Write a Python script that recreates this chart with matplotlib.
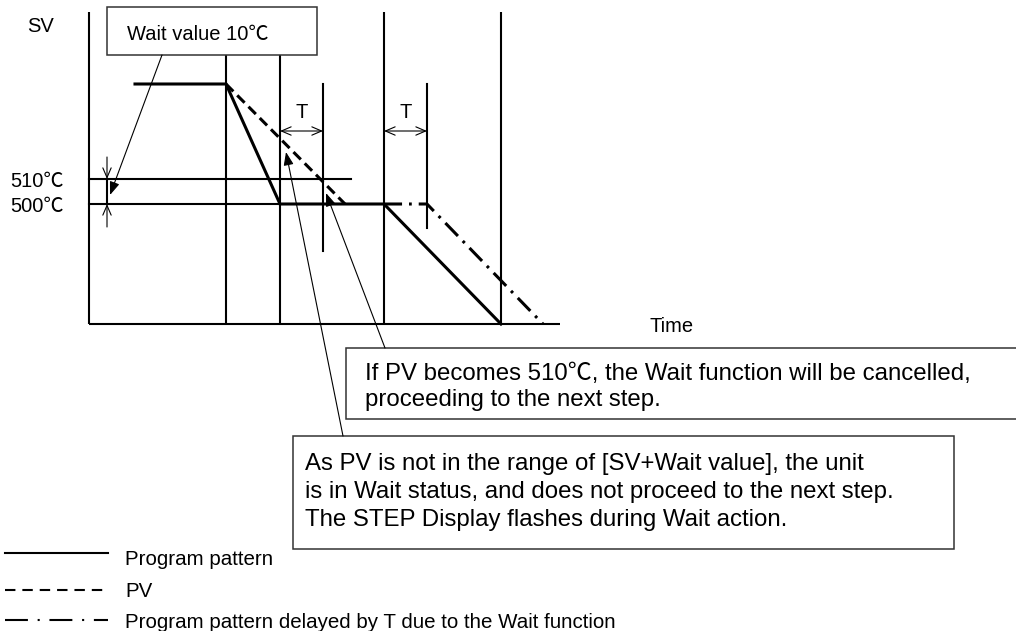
import matplotlib
matplotlib.use("Agg")
import matplotlib.pyplot as plt
from matplotlib.patches import Rectangle

plt.rcParams['font.family'] = ['Liberation Sans', 'Noto Sans CJK SC', 'DejaVu Sans']
plt.rcParams['lines.scale_dashes'] = False

# ---------------- data (time units, SV in degC) ----------------
program_t = [46, 137, 191, 295, 412]
program_sv = [548, 548, 500, 500, 452]
pv_t = [137, 256]
pv_sv = [548, 500]
delayed_t = [295, 338, 454]
delayed_sv = [500, 500, 452]
step_times = [137, 191, 295, 412]
T_delay = 43
sv_level = 500
wait_value = 10
sv_origin = 452
time_end = 471

labels_sv = ["510℃", "500℃"]
legend_labels = ["Program pattern", "PV", "Program pattern delayed by T due to the Wait function"]
box1_text = "Wait value 10℃"
box2_text = "If PV becomes 510℃, the Wait function will be cancelled,\nproceeding to the next step."
box3_text = ("As PV is not in the range of [SV+Wait value], the unit\n"
             "is in Wait status, and does not proceed to the next step.\n"
             "The STEP Display flashes during Wait action.")

# ---------------- figure: 1 time unit = 1 px, 1 degC = 2.5 px ----------------
W, H = 1016, 631
X0, Y500, K = 89, 204, 2.5

def px(x, y):
    """pixel position -> data coordinates (layout helper)"""
    return x - X0, sv_level + (Y500 - y) / K

fig = plt.figure(figsize=(W / 100, H / 100), dpi=100)
ax = fig.add_axes([0, 0, 1, 1])
ax.set_xlim(px(0, 0)[0], px(W, 0)[0])
ax.set_ylim(px(0, H)[1], px(0, 0)[1])
ax.axis('off')

k = 'black'
FS = 14.5
FS_BOX = 17.3
FS_LEG = 14.8

# axes
ax.plot([0, 0], [sv_origin, px(0, 12)[1]], color=k, lw=1.5, solid_capstyle='butt')
ax.plot([0, time_end], [sv_origin, sv_origin], color=k, lw=1.5, solid_capstyle='butt')

# step boundary verticals
tops = [px(0, 55)[1], px(0, 55)[1], px(0, 12)[1], px(0, 12)[1]]
for t, top in zip(step_times, tops):
    ax.plot([t, t], [sv_origin, top], color=k, lw=1.5, solid_capstyle='butt')

# T marker verticals
tm1 = step_times[1] + T_delay
tm2 = step_times[2] + T_delay
ax.plot([tm1, tm1], [px(0, 251)[1], px(0, 84)[1]], color=k, lw=1.5)
ax.plot([tm2, tm2], [px(0, 228)[1], px(0, 84)[1]], color=k, lw=1.5)

# SV level lines
ax.plot([0, px(351, 0)[0]], [sv_level + wait_value] * 2, color=k, lw=1.5)
ax.plot([0, step_times[1]], [sv_level] * 2, color=k, lw=1.5)

# program pattern
ax.plot(program_t, program_sv, color=k, lw=2.2, solid_joinstyle='miter')
# PV
ax.plot(pv_t, pv_sv, color=k, lw=2.2, dashes=(7.5, 4.0))
# delayed program
ax.plot(delayed_t, delayed_sv, color=k, lw=2.2, dashes=(13, 5, 2, 5))

# T arrows and labels
y_T = px(0, 131)[1]
for a, b in [(step_times[1], tm1), (step_times[2], tm2)]:
    ax.annotate('', xy=(b, y_T), xytext=(a, y_T),
                arrowprops=dict(arrowstyle='<->,head_length=0.7,head_width=0.3', lw=0.8, color=k,
                                shrinkA=0, shrinkB=0))
    ax.text((a + b) / 2, px(0, 118)[1], 'T', ha='center', va='baseline', fontsize=FS)

# wait value marker
xw = px(107, 0)[0]
ax.plot([xw, xw], [sv_level, sv_level + wait_value], color=k, lw=1.5)
ax.annotate('', xy=(xw, sv_level + wait_value), xytext=(xw, px(0, 157)[1]),
            arrowprops=dict(arrowstyle='->,head_length=0.7,head_width=0.3', lw=0.8, color=k,
                            shrinkA=0, shrinkB=0))
ax.annotate('', xy=(xw, sv_level), xytext=(xw, px(0, 227)[1]),
            arrowprops=dict(arrowstyle='->,head_length=0.7,head_width=0.3', lw=0.8, color=k,
                            shrinkA=0, shrinkB=0))

# labels
ax.text(*px(27, 32), 'SV', ha='left', va='baseline', fontsize=FS)
ax.text(*px(10, 187), labels_sv[0], ha='left', va='baseline', fontsize=FS)
ax.text(*px(10, 212), labels_sv[1], ha='left', va='baseline', fontsize=FS)
ax.text(*px(649, 332), 'Time', ha='left', va='baseline', fontsize=FS)

# boxes
def box(x0, y0, x1, y1):
    (a, b), (c, d) = px(x0, y1), px(x1, y0)
    ax.add_patch(Rectangle((a, b), c - a, d - b, fill=True, facecolor='white',
                           edgecolor='#333333', lw=1.1, zorder=3))

box(107, 7, 317, 55)
ax.text(*px(127, 40), box1_text, ha='left', va='baseline', fontsize=FS, zorder=4)

box(346, 348, 1030, 419)
for i, line in enumerate(box2_text.split('\n')):
    ax.text(*px(365, 380 + 26 * i), line, ha='left', va='baseline', fontsize=FS_BOX, zorder=4)

box(293, 436, 954, 549)
for i, line in enumerate(box3_text.split('\n')):
    ax.text(*px(305, 470 + 28 * i), line, ha='left', va='baseline', fontsize=FS_BOX, zorder=4)

# callout arrows
fill_arrow = dict(arrowstyle='-|>,head_length=0.8,head_width=0.3', lw=0.8, color=k,
                  shrinkA=0, shrinkB=0)
ax.annotate('', xy=px(110, 195), xytext=px(162, 55), arrowprops=fill_arrow, zorder=5)
ax.annotate('', xy=px(326, 193), xytext=px(385, 348), arrowprops=fill_arrow, zorder=5)
ax.annotate('', xy=px(286, 152), xytext=px(343, 436), arrowprops=fill_arrow, zorder=5)

# legend
ly = [553, 590, 620]
lbase = [565, 597, 628]
styles = [dict(), dict(dashes=(7.5, 5.0)), dict(dashes=(16.5, 7, 1.5, 7))]
for yy, yb, st, lab in zip(ly, lbase, styles, legend_labels):
    (a, b), (c, _) = px(5, yy), px(108, yy)
    ax.plot([a, c], [b, b], color=k, lw=1.5, **st)
    ax.text(*px(125, yb), lab, ha='left', va='baseline', fontsize=FS_LEG)

fig.savefig('out.png', dpi=100)
